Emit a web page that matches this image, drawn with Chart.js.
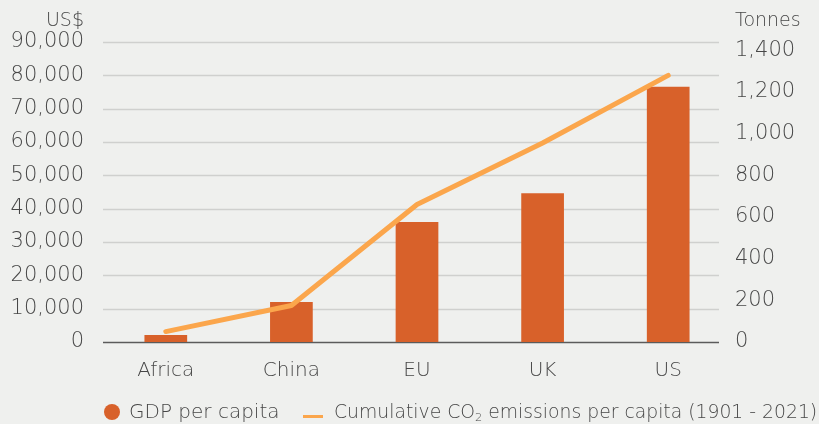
<!DOCTYPE html>
<html>
<head>
<meta charset="utf-8">
<script src="https://cdn.jsdelivr.net/npm/chart.js@4/dist/chart.umd.min.js"></script>
<style>
  html, body { margin: 0; padding: 0; background: #eff0ee; }
  #wrap { position: relative; width: 819px; height: 424px; overflow: hidden; background: #eff0ee;
          font-family: "DejaVu Sans", sans-serif; font-weight: 300; color: #474747; }
  #chart { position: absolute; left: 0; top: 0; }
  .ttl { position: absolute; font-size: 19px; line-height: 19px; white-space: nowrap; }
  .leg { position: absolute; line-height: 19px; white-space: nowrap; }
  .leg sub { font-size: 0.6em; vertical-align: -0.25em; line-height: 0; }
  .dot { position: absolute; width: 16px; height: 16px; border-radius: 50%; background: #d8612a; }
  .dash { position: absolute; width: 20px; height: 3px; background: #fba64c; }
</style>
</head>
<body>
<div id="wrap">
  <canvas id="chart" width="819" height="424"></canvas>
  <div class="ttl" style="right:735px; top:10px; text-align:right;">US$</div>
  <div class="ttl" style="left:735px; top:10px;">Tonnes</div>
  <div class="dot" style="left:104px; top:404px;"></div>
  <div class="leg" style="left:129px; top:402px; font-size:20px;">GDP per capita</div>
  <div class="dash" style="left:303px; top:415px;"></div>
  <div class="leg" style="left:334px; top:402px; font-size:18.8px;">Cumulative CO<sub>2</sub> emissions per capita (1901 - 2021)</div>
</div>
<script>
// Regions compared
const categories = ["Africa", "China", "EU", "UK", "US"];
// GDP per capita, US$
const gdpPerCapita = [2100, 12000, 36000, 44600, 76600];
// Cumulative CO2 emissions per capita 1901-2021, tonnes
const co2PerCapita = [50, 175, 660, 955, 1280];
// Tick values for the two value axes
const gdpTicks = [0, 10000, 20000, 30000, 40000, 50000, 60000, 70000, 80000, 90000];
const co2Ticks = [0, 200, 400, 600, 800, 1000, 1200, 1400];

const BAR = "#d8612a";
const LINE = "#fba64c";
const TEXT = "#474747";

// Horizontal gridlines plus the dark zero baseline, drawn behind the marks
const gridPlugin = {
  id: "gridLines",
  beforeDatasetsDraw(chart) {
    const { ctx, chartArea } = chart;
    const y = chart.scales.y;
    const x0 = chartArea.left;
    const x1 = chartArea.right - 12;
    ctx.save();
    y.ticks.forEach(t => {
      const py = Math.round(y.getPixelForValue(t.value)) + 0.5;
      ctx.beginPath();
      ctx.lineWidth = 1.5;
      ctx.strokeStyle = t.value === 0 ? "#5b5b5b" : "#cfd0ce";
      ctx.moveTo(x0, py);
      ctx.lineTo(x1, py);
      ctx.stroke();
    });
    ctx.restore();
  }
};

const fmt = v => v.toLocaleString("en-US");
const tickFont = { family: "DejaVu Sans", size: 21, weight: 300 };

new Chart(document.getElementById("chart"), {
  data: {
    labels: categories,
    datasets: [
      {
        type: "line",
        label: "Cumulative CO₂ emissions per capita (1901 - 2021)",
        data: co2PerCapita,
        yAxisID: "y2",
        borderColor: LINE,
        borderWidth: 5,
        borderCapStyle: "round",
        borderJoinStyle: "round",
        pointRadius: 0,
        tension: 0,
        order: 0
      },
      {
        type: "bar",
        label: "GDP per capita",
        data: gdpPerCapita,
        yAxisID: "y",
        backgroundColor: BAR,
        categoryPercentage: 1,
        barPercentage: 0.34,
        order: 1
      }
    ]
  },
  options: {
    responsive: false,
    animation: false,
    layout: { padding: { top: 42, bottom: 0, left: 0, right: 0 } },
    plugins: { legend: { display: false }, tooltip: { enabled: false } },
    scales: {
      x: {
        grid: { display: false, drawTicks: false },
        border: { display: false },
        ticks: { color: TEXT, padding: 17, font: { family: "DejaVu Sans", size: 20, weight: 300 } },
        afterFit(s) { s.height = 82; }
      },
      y: {
        position: "left",
        min: 0, max: 90000,
        grid: { display: false, drawTicks: false },
        border: { display: false },
        ticks: { padding: 19, color: TEXT, font: tickFont, callback: fmt },
        afterBuildTicks(s) { s.ticks = gdpTicks.map(v => ({ value: v })); },
        afterFit(s) { s.width = 103; }
      },
      y2: {
        position: "right",
        min: 0, max: 1440,
        grid: { display: false, drawTicks: false },
        border: { display: false },
        ticks: { padding: 4, color: TEXT, font: tickFont, callback: fmt },
        afterBuildTicks(s) { s.ticks = co2Ticks.map(v => ({ value: v })); },
        afterFit(s) { s.width = 88; }
      }
    }
  },
  plugins: [gridPlugin]
});
</script>
</body>
</html>
